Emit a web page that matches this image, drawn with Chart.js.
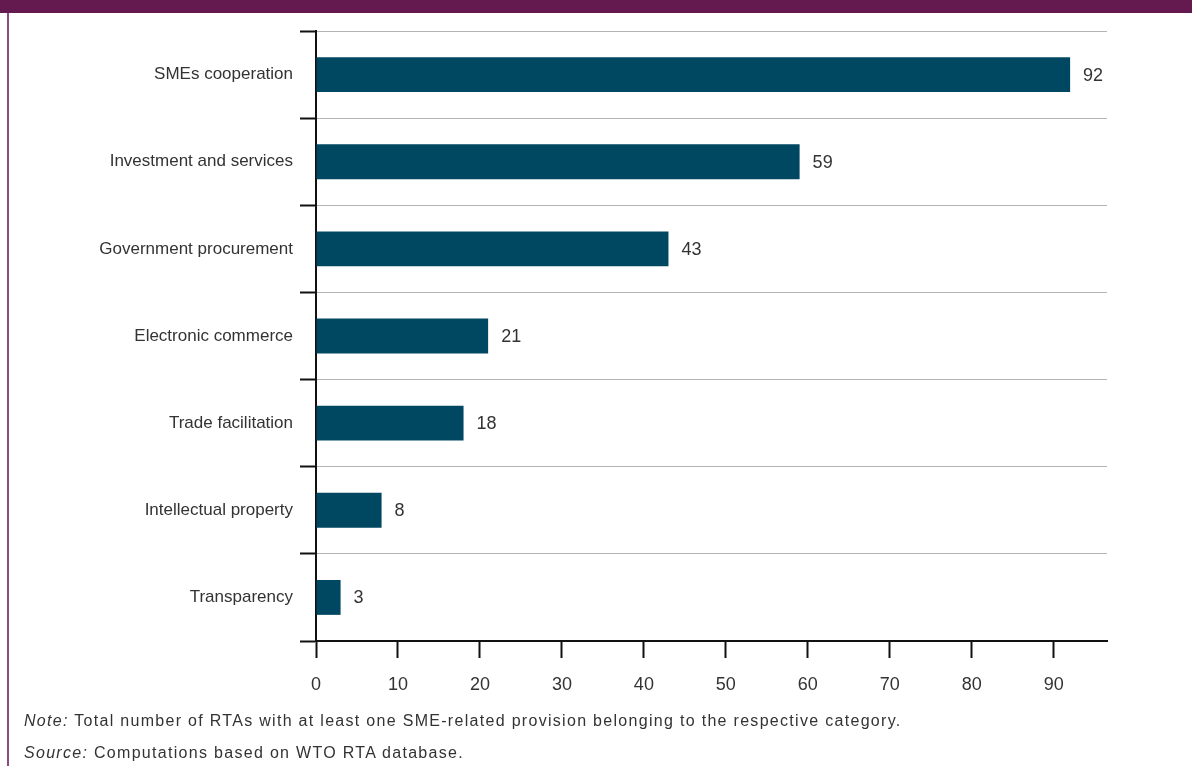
<!DOCTYPE html>
<html>
<head>
<meta charset="utf-8">
<script src="https://cdn.jsdelivr.net/npm/chart.js@4/dist/chart.umd.min.js"></script>
<style>
  html, body { margin: 0; padding: 0; background: #fff; }
  body { width: 1192px; height: 766px; position: relative; overflow: hidden; font-family: "Liberation Sans", Arial, sans-serif; }
  #band { position: absolute; left: 0; top: 0; width: 1192px; height: 13px; background: #641a4f; }
  #lborder { position: absolute; left: 7px; top: 13px; width: 2px; height: 753px; background: #8c4a80; }
  #wrap { position: absolute; left: 0; top: 0; width: 1192px; height: 766px; }
  .foot { position: absolute; left: 24px; font-size: 16px; letter-spacing: 1.3px; color: #333; white-space: nowrap; }
  .foot i { font-style: italic; }
</style>
</head>
<body>
<div id="band"></div>
<div id="lborder"></div>
<div id="wrap"><canvas id="c" width="1192" height="766"></canvas></div>
<div class="foot" style="top:712px;"><i>Note:</i> Total number of RTAs with at least one SME-related provision belonging to the respective category.</div>
<div class="foot" style="top:744px;"><i>Source:</i> Computations based on WTO RTA database.</div>
<script>
const categories = ["SMEs cooperation", "Investment and services", "Government procurement", "Electronic commerce", "Trade facilitation", "Intellectual property", "Transparency"];
const values = [92, 59, 43, 21, 18, 8, 3];
const xTicks = [0, 10, 20, 30, 40, 50, 60, 70, 80, 90];

const valueLabels = {
  id: 'valueLabels',
  afterDatasetsDraw(chart) {
    const ctx = chart.ctx;
    const meta = chart.getDatasetMeta(0);
    ctx.save();
    ctx.font = '18px "Liberation Sans", Arial, sans-serif';
    ctx.fillStyle = '#333';
    ctx.textAlign = 'left';
    ctx.textBaseline = 'middle';
    meta.data.forEach((bar, i) => {
      ctx.fillText(String(values[i]), bar.x + 13, bar.y + 1);
    });
    ctx.restore();
  }
};

new Chart(document.getElementById('c'), {
  type: 'bar',
  data: {
    labels: categories,
    datasets: [{
      data: values,
      backgroundColor: '#004862',
      borderWidth: 0,
      categoryPercentage: 0.8,
      barPercentage: 0.5
    }]
  },
  options: {
    indexAxis: 'y',
    responsive: false,
    animation: false,
    layout: { padding: { top: 31, right: 85, left: 0, bottom: 0 } },
    plugins: { legend: { display: false }, tooltip: { enabled: false } },
    scales: {
      x: {
        type: 'linear',
        min: 0,
        max: 96.5,
        afterBuildTicks: (axis) => { axis.ticks = xTicks.map(v => ({ value: v })); },
        afterFit: (scale) => { scale.height = 125; },
        border: { display: true, color: '#111', width: 2 },
        grid: { drawOnChartArea: false, drawTicks: true, tickLength: 17, tickColor: '#111', tickWidth: 2 },
        ticks: { color: '#333', font: { size: 18, family: '"Liberation Sans", Arial, sans-serif' }, padding: 16, maxRotation: 0 }
      },
      y: {
        type: 'category',
        afterFit: (scale) => { scale.width = 316; },
        border: { display: true, color: '#111', width: 2 },
        grid: { offset: true, drawOnChartArea: true, color: '#b4b4b4', lineWidth: 1, tickLength: 16, tickColor: '#111', tickWidth: 2 },
        ticks: { color: '#333', font: { size: 17, family: '"Liberation Sans", Arial, sans-serif' }, padding: 7 }
      }
    }
  },
  plugins: [valueLabels]
});
</script>
</body>
</html>
